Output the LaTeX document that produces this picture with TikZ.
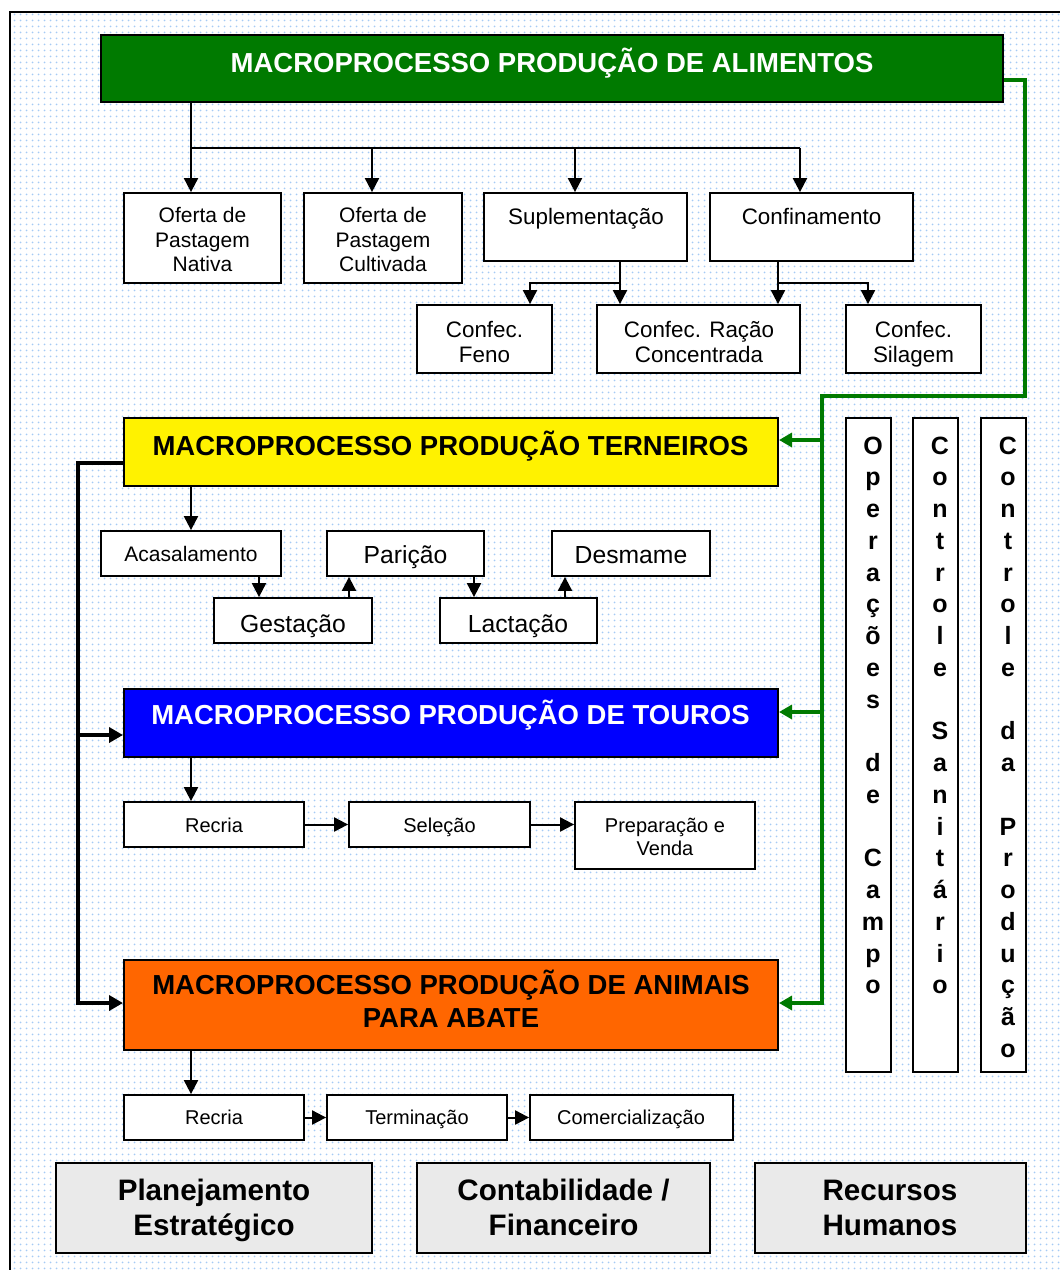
\documentclass[tikz,border=0pt]{standalone}
\usepackage{fontspec}
\setmainfont{Liberation Sans}
\usetikzlibrary{arrows.meta,fit,patterns.meta}

\definecolor{dotblue}{RGB}{165,203,245}
\definecolor{mgreen}{RGB}{0,122,0}
\definecolor{morange}{RGB}{255,102,0}
\definecolor{chkgray}{RGB}{234,234,234}

\pgfdeclarepattern{
  name=bgdots,
  type=colored,
  bottom left={\pgfpoint{0pt}{0pt}},
  top right={\pgfpoint{6pt}{6pt}},
  tile size={\pgfpoint{6pt}{6pt}},
  code={\pgfsetfillcolor{dotblue}\pgfpathcircle{\pgfpoint{3pt}{3pt}}{1.1pt}\pgfusepath{fill}}
}

\newcommand\myfs[2]{\fontsize{#1}{#2}\selectfont}

\begin{document}
\begin{tikzpicture}[x=1pt,y=-1pt,
  box/.style={draw=black, line width=1.8pt, fill=white, inner sep=0pt},
  bigbox/.style={draw=black, line width=2pt, inner sep=0pt},
  botbox/.style={draw=black, line width=1.8pt, fill=chkgray, inner sep=0pt},
  ttl/.style={anchor=base, inner sep=0pt, align=center, font=\myfs{27.5}{33}\bfseries},
  sm/.style={anchor=base, inner sep=0pt, align=center},
  vl/.style={anchor=base, inner sep=0pt, font=\myfs{25}{30}\bfseries},
  bt/.style={anchor=base, inner sep=0pt, align=center, font=\myfs{29.6}{34.5}\bfseries},
  ln/.style={line width=2pt},
  arr/.style={line width=2pt, -{Triangle[length=14pt,width=14pt]}},
  thk/.style={line width=4.5pt, -{Triangle[length=14pt,width=15pt]}},
  grn/.style={draw=mgreen, line width=3.5pt, -{Triangle[length=13pt,width=14pt]}}
]
\useasboundingbox (0,0) rectangle (1060,1270);
\fill[white] (10,12) rectangle (1060,1270);
\fill[pattern=bgdots] (10,12) rectangle (1060,1270);
\draw[line width=1.5pt] (10,1271) -- (10,12) -- (1061,12);

% ---------- boxes ----------
\node[bigbox, fill=mgreen, fit={(101,35)(1003,102)}] (alim) {};
\node[box, fit={(124,193)(281,283)}] (nat) {};
\node[box, fit={(304,193)(462,283)}] (cult) {};
\node[box, fit={(484,193)(687,261)}] (sup) {};
\node[box, fit={(710,193)(913,261)}] (conf) {};
\node[box, fit={(417,305)(552,373)}] (feno) {};
\node[box, fit={(597,305)(800,373)}] (racao) {};
\node[box, fit={(846,305)(981,373)}] (sil) {};

\node[bigbox, fill=yellow, fit={(124,418)(778,486)}] (tern) {};
\node[box, fit={(101,531)(281,576)}] (acas) {};
\node[box, fit={(327,531)(484,576)}] (par) {};
\node[box, fit={(552,531)(710,576)}] (desm) {};
\node[box, fit={(214,598)(372,643)}] (gest) {};
\node[box, fit={(440,598)(597,643)}] (lact) {};

\node[bigbox, fill=blue, fit={(124,689)(778,757)}] (tour) {};
\node[box, fit={(124,802)(304,847)}] (rec) {};
\node[box, fit={(349,802)(530,847)}] (sel) {};
\node[box, fit={(575,802)(755,869)}] (prep) {};

\node[bigbox, fill=morange, fit={(124,960)(778,1050)}] (abate) {};
\node[box, fit={(124,1095)(304,1140)}] (rec2) {};
\node[box, fit={(327,1095)(507,1140)}] (term) {};
\node[box, fit={(530,1095)(733,1140)}] (com) {};

\node[box, fit={(846,418)(891,1072)}] (vop) {};
\node[box, fit={(913,418)(958,1072)}] (vcs) {};
\node[box, fit={(981,418)(1026,1072)}] (vcp) {};

\node[botbox, fit={(56,1163)(372,1253)}] (plan) {};
\node[botbox, fit={(417,1163)(710,1253)}] (cont) {};
\node[botbox, fit={(755,1163)(1026,1253)}] (rh) {};

% ---------- texts (multi-line nodes: base = last line) ----------
\node[ttl, text=white] (alimT) at (552,72) {MACROPROCESSO PRODUÇÃO DE ALIMENTOS};
\node[sm, font=\myfs{21}{24.5}] (natT) at (202.5,271.7) {Oferta de\\Pastagem\\Nativa};
\node[sm, font=\myfs{21}{24.5}] (cultT) at (383,271.7) {Oferta de\\Pastagem\\Cultivada};
\node[sm, font=\myfs{22.4}{25}] (supT) at (586,224) {Suplementação};
\node[sm, font=\myfs{22.4}{25}] (confT) at (811.5,224) {Confinamento};
\node[sm, font=\myfs{22.4}{24.7}] (fenoT) at (484.5,362) {Confec.\\Feno};
\node[sm, font=\myfs{22.4}{24.7}] (racaoT) at (699,362) {Confec. Ração\\Concentrada};
\node[sm, font=\myfs{22.4}{24.7}] (silT) at (913.5,362) {Confec.\\Silagem};

\node[ttl] (ternT) at (450.5,455) {MACROPROCESSO PRODUÇÃO TERNEIROS};
\node[sm, font=\myfs{21}{24}] (acasT) at (191,561) {Acasalamento};
\node[sm, font=\myfs{24.7}{28}] (parT) at (405.5,563) {Parição};
\node[sm, font=\myfs{24.7}{28}] (desmT) at (631,563) {Desmame};
\node[sm, font=\myfs{24.7}{28}] (gestT) at (293,632) {Gestação};
\node[sm, font=\myfs{24.7}{28}] (lactT) at (518,632) {Lactação};

\node[ttl, text=white] (tourT) at (450.5,724) {MACROPROCESSO PRODUÇÃO DE TOUROS};
\node[sm, font=\myfs{20}{23}] (recT) at (214,832) {Recria};
\node[sm, font=\myfs{20}{23}] (selT) at (439.5,832) {Seleção};
\node[sm, font=\myfs{20}{23}] (prepT) at (665,855) {Preparação e\\Venda};

\node[ttl] (abateT) at (451,1027) {MACROPROCESSO PRODUÇÃO DE ANIMAIS\\PARA ABATE};
\node[sm, font=\myfs{20}{23}] (rec2T) at (214,1124) {Recria};
\node[sm, font=\myfs{20}{23}] (termT) at (417,1124) {Terminação};
\node[sm, font=\myfs{20}{23}] (comT) at (631,1124) {Comercialização};

\node[bt] (planT) at (214,1235) {Planejamento\\Estratégico};
\node[bt] (contT) at (563.5,1235) {Contabilidade /\\Financeiro};
\node[bt] (rhT) at (890,1235) {Recursos\\Humanos};

\foreach \c [count=\i] in {O,p,e,r,a,ç,õ,e,s,{},d,e,{},C,a,m,p,o}
  \node[vl] (op\i) at (873,{454+31.75*(\i-1)}) {\c};
\foreach \c [count=\i] in {C,o,n,t,r,o,l,e,{},S,a,n,i,t,á,r,i,o}
  \node[vl] (cs\i) at (940,{454+31.75*(\i-1)}) {\c};
\foreach \c [count=\i] in {C,o,n,t,r,o,l,e,{},d,a,{},P,r,o,d,u,ç,ã,o}
  \node[vl] (cp\i) at (1008,{454+31.75*(\i-1)}) {\c};

% ---------- helper coordinates ----------
\coordinate (x191) at (191,0);
\coordinate (bar) at (191,148);
\coordinate (x372) at (372,148);
\coordinate (x575) at (575,148);
\coordinate (x800) at (800,148);
\coordinate (j620) at (620,283);
\coordinate (j530) at (530,283);
\coordinate (j778) at (778,283);
\coordinate (j868) at (868,283);
\coordinate (x259) at (259,0);
\coordinate (x349) at (349,0);
\coordinate (x474) at (474,0);
\coordinate (x565) at (565,0);
\coordinate (l463) at (78,463);
\coordinate (lm) at (78,735);
\coordinate (lb) at (78,1003);
\coordinate (g1) at (1025,80);
\coordinate (g2) at (1025,396);
\coordinate (g3) at (822,396);
\coordinate (gy) at (822,440);
\coordinate (gb) at (822,712);
\coordinate (go) at (822,1003);

% ---------- connectors: alimentos ----------
\draw[arr] (alim.south -| x191) -- (nat.north -| x191);
\draw[ln] (bar) -- (x800);
\draw[arr] (x372) -- (cult.north -| x372);
\draw[arr] (x575) -- (sup.north -| x575);
\draw[arr] (x800) -- (conf.north -| x800);
\draw[arr] (sup.south -| j620) -- (racao.north -| j620);
\draw[arr] (j620) -- (j530) -- (feno.north -| j530);
\draw[arr] (conf.south -| j778) -- (racao.north -| j778);
\draw[arr] (j778) -- (j868) -- (sil.north -| j868);

% ---------- green connector ----------
\draw[grn] (alim.east |- g1) -- (g1) -- (g2) -- (g3) -- (go) -- (abate.east |- go);
\draw[grn] (gy) -- (tern.east |- gy);
\draw[grn] (gb) -- (tour.east |- gb);

% ---------- black left connector ----------
\draw[thk] (tern.west |- l463) -- (l463) -- (lb) -- (abate.west |- lb);
\draw[thk] (lm) -- (tour.west |- lm);

% ---------- terneiros ----------
\draw[arr] (tern.south -| x191) -- (acas.north -| x191);
\draw[arr] (acas.south -| x259) -- (gest.north -| x259);
\draw[arr] (gest.north -| x349) -- (par.south -| x349);
\draw[arr] (par.south -| x474) -- (lact.north -| x474);
\draw[arr] (lact.north -| x565) -- (desm.south -| x565);

% ---------- touros ----------
\draw[arr] (tour.south -| x191) -- (rec.north -| x191);
\draw[arr] (rec.east) -- (sel.west);
\draw[arr] (sel.east) -- (sel.east -| prep.west);

% ---------- abate ----------
\draw[arr] (abate.south -| x191) -- (rec2.north -| x191);
\draw[arr] (rec2.east) -- (term.west);
\draw[arr] (term.east) -- (com.west);
\end{tikzpicture}
\end{document}
